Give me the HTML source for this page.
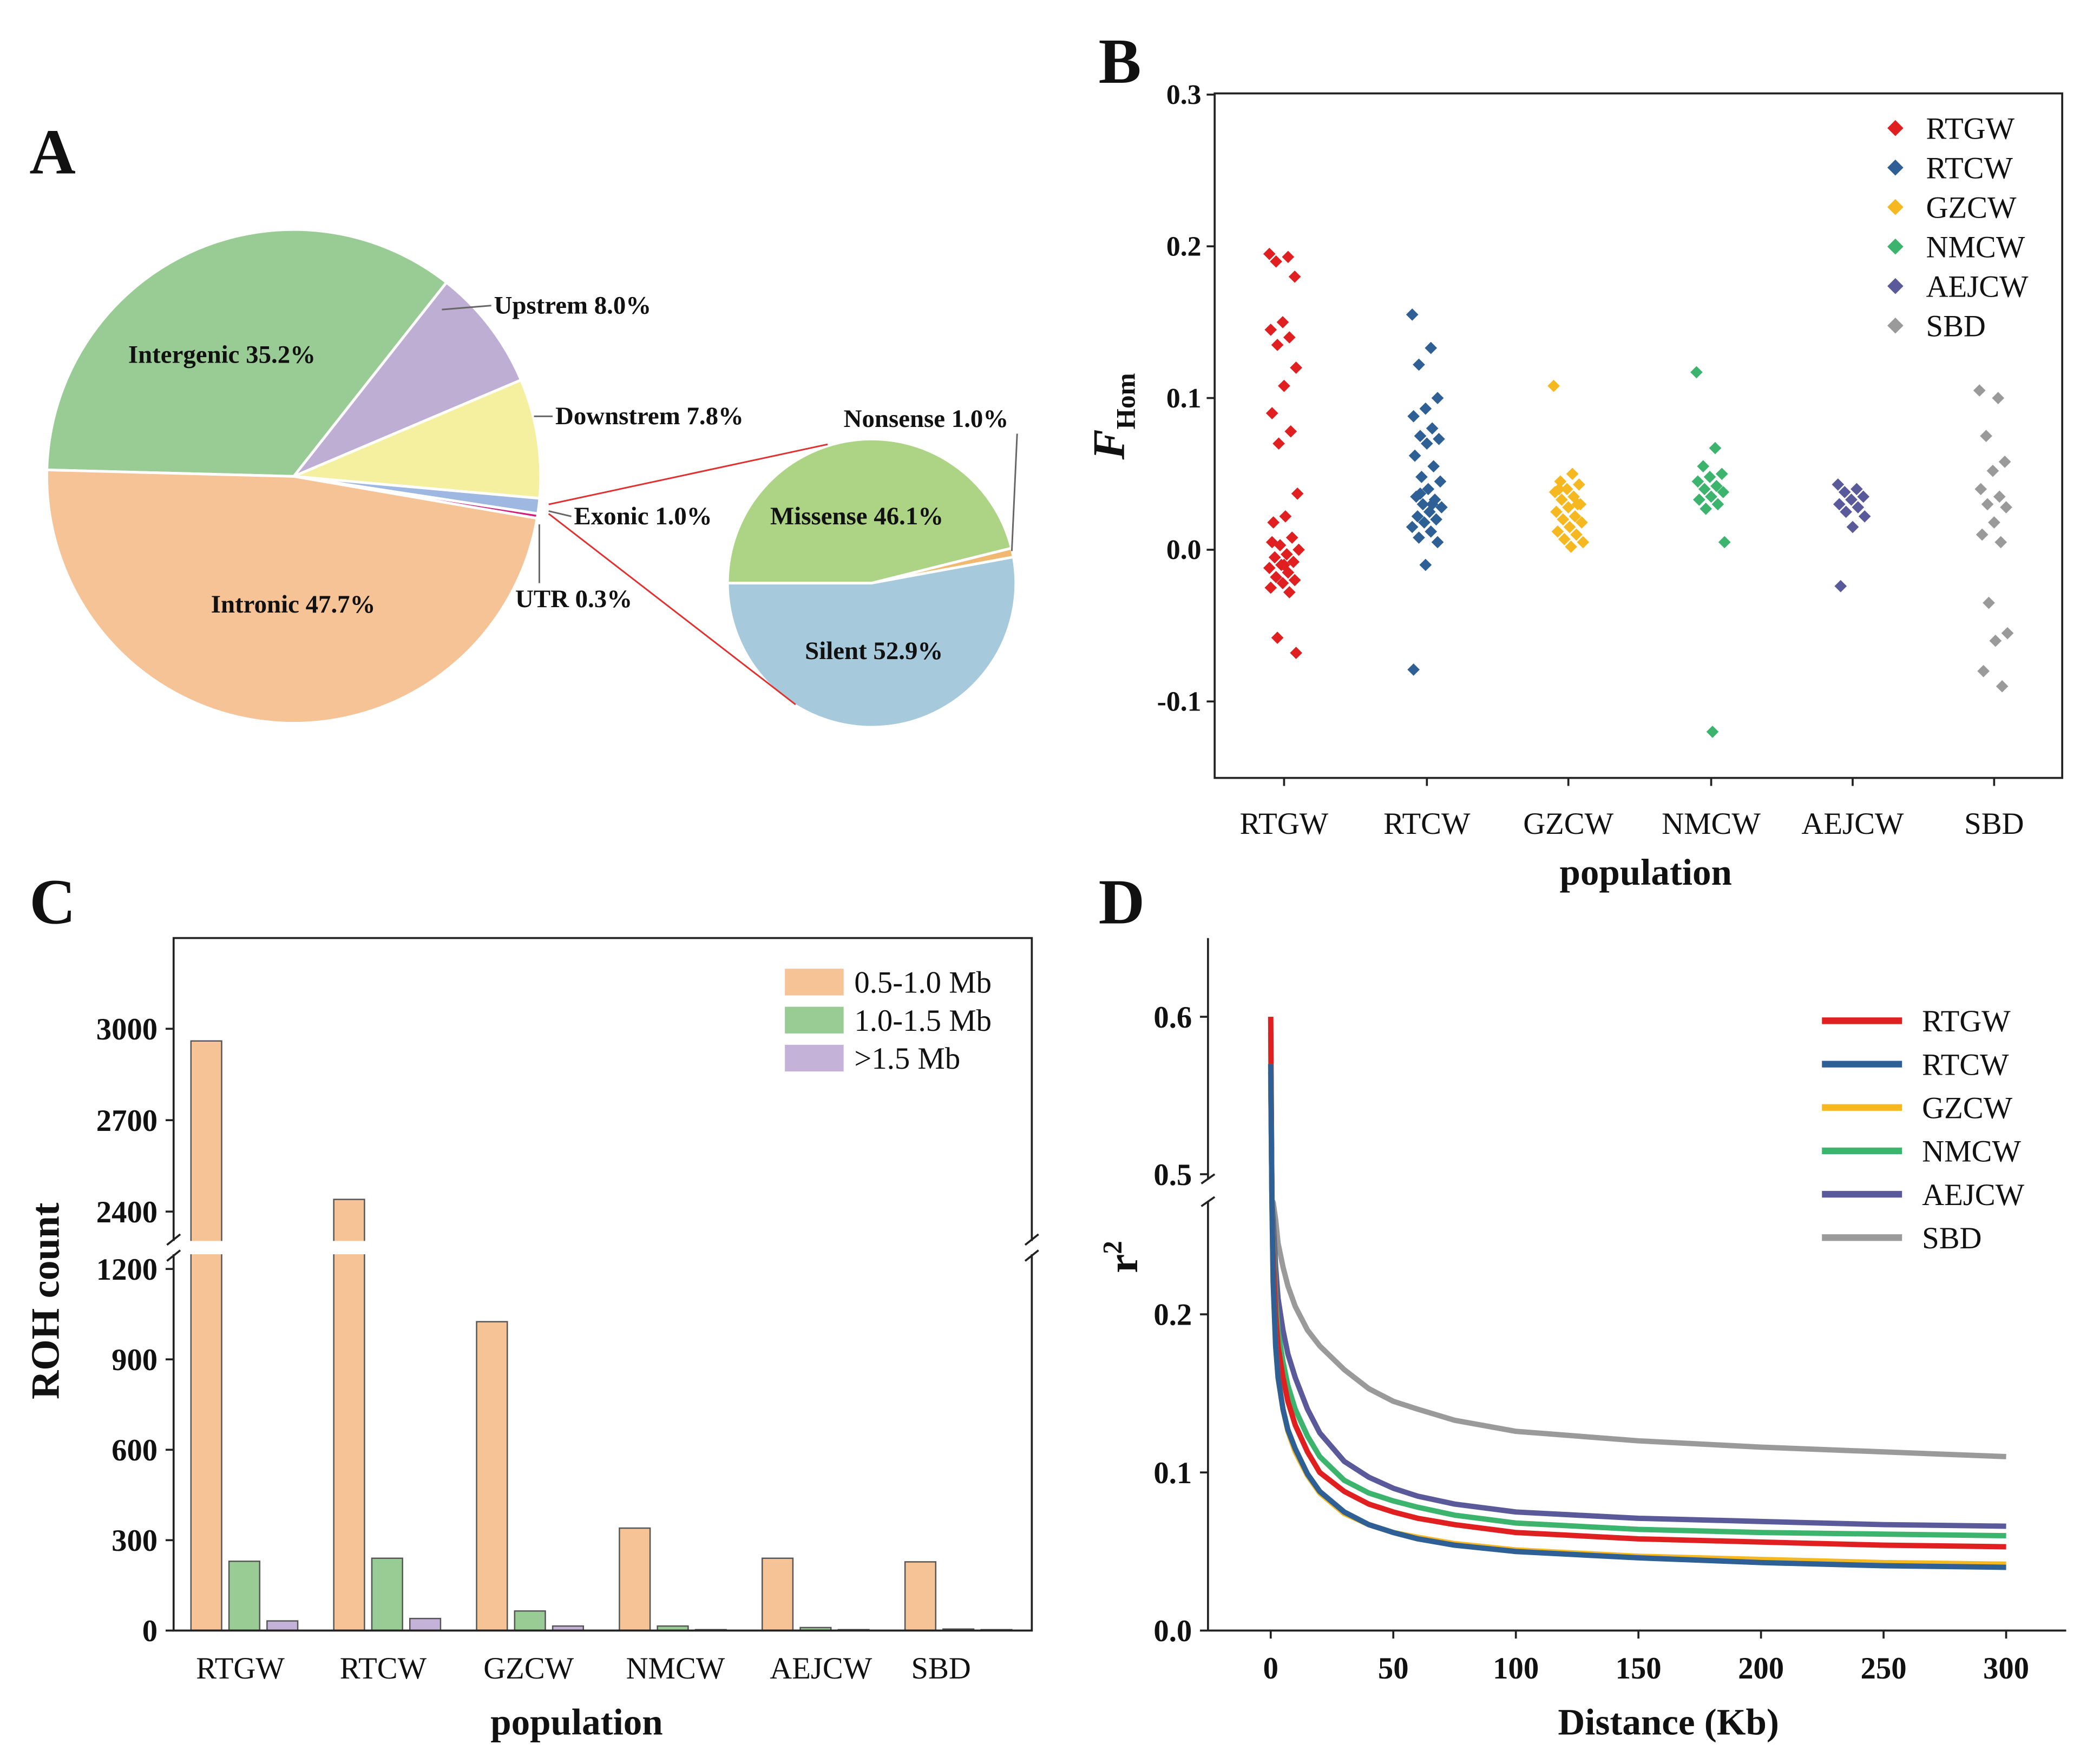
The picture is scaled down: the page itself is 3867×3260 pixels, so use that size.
<!DOCTYPE html>
<html><head><meta charset="utf-8"><style>
html,body{margin:0;padding:0;background:#fff;}
svg{display:block;font-family:"Liberation Serif",serif;}
</style></head><body>
<svg id="fig" width="3867" height="3260" viewBox="0 0 1568 1322" xmlns="http://www.w3.org/2000/svg">
<rect x="0" y="0" width="1568" height="1322" fill="#fff"/>
<g id="A"></g>
<g id="B"></g>
<g id="C"></g>
<g id="D"></g>
</svg>
<script>
// ===== Panel A data =====
const pieLabels = ["Intergenic","Upstrem","Downstrem","Exonic","UTR","Intronic"];
const pieValues = [35.2, 8.0, 7.8, 1.0, 0.3, 47.7];
const pieColors = ["#98cc94","#bfaed4","#f4f0a0","#9fb8e2","#d0207a","#f5c396"];
const subLabels = ["Missense","Nonsense","Silent"];
const subValues = [46.1, 1.0, 52.9];
const subColors = ["#acd484","#f0b870","#a7c9dc"];
// ===== Panel B data =====
const popNames = ["RTGW","RTCW","GZCW","NMCW","AEJCW","SBD"];
const popColors = ["#e02020","#2e5f95","#f5b820","#3cb46e","#5a5a9a","#9a9a9a"];
const fRTGW = [0.195,0.193,0.19,0.18,0.15,0.145,0.14,0.135,0.12,0.108,0.09,0.078,0.07,0.037,0.022,0.018,0.008,0.003,0.0,-0.003,-0.005,-0.008,-0.01,-0.012,-0.015,-0.018,-0.02,-0.022,-0.025,-0.028,-0.058,-0.068,-0.01,0.005];
const fRTCW = [0.155,0.133,0.122,0.1,0.093,0.088,0.08,0.075,0.073,0.07,0.062,0.055,0.048,0.045,0.04,0.035,0.033,0.03,0.028,0.025,0.022,0.02,0.018,0.015,0.012,0.008,0.005,-0.01,-0.079,0.03,0.037];
const fGZCW = [0.108,0.05,0.045,0.043,0.04,0.038,0.035,0.033,0.03,0.028,0.025,0.022,0.02,0.018,0.015,0.012,0.01,0.007,0.005,0.002,0.04,0.03];
const fNMCW = [0.117,0.067,0.055,0.05,0.048,0.045,0.042,0.04,0.038,0.035,0.033,0.03,0.027,0.005,-0.12];
const fAEJCW = [0.043,0.04,0.038,0.035,0.033,0.03,0.028,0.025,0.022,0.015,-0.024];
const fSBD = [0.105,0.1,0.075,0.058,0.052,0.04,0.035,0.03,0.028,0.018,0.01,0.005,-0.035,-0.055,-0.06,-0.08,-0.09];
const bTicks = [-0.1,0.0,0.1,0.2,0.3];
// ===== Panel C data =====
const rohCats = ["RTGW","RTCW","GZCW","NMCW","AEJCW","SBD"];
const roh05 = [2960,2440,1025,340,240,228];
const roh10 = [230,240,65,15,10,5];
const roh15 = [32,40,15,3,3,3];
const rohSeriesNames = ["0.5-1.0 Mb","1.0-1.5 Mb",">1.5 Mb"];
const rohColors = ["#f5c396","#98cc94","#c4b2d8"];
const cLowTicks = [0,300,600,900,1200];
const cHighTicks = [2400,2700,3000];
// ===== Panel D data =====
const ldDist = [0,0.5,1,2,3,5,7,10,15,20,30,40,50,60,75,100,150,200,250,300];
const ldRTGW = [0.60,0.30,0.24,0.20,0.18,0.16,0.145,0.13,0.113,0.10,0.088,0.08,0.075,0.071,0.067,0.062,0.058,0.056,0.054,0.053];
const ldRTCW = [0.57,0.28,0.22,0.18,0.16,0.14,0.127,0.115,0.099,0.088,0.075,0.067,0.062,0.058,0.054,0.050,0.046,0.043,0.041,0.040];
const ldGZCW = [0.57,0.28,0.22,0.18,0.16,0.14,0.126,0.113,0.098,0.087,0.074,0.067,0.062,0.059,0.055,0.051,0.047,0.045,0.043,0.042];
const ldNMCW = [0.59,0.30,0.25,0.21,0.19,0.17,0.155,0.14,0.123,0.11,0.095,0.087,0.082,0.078,0.073,0.068,0.064,0.062,0.061,0.060];
const ldAEJCW = [0.565,0.30,0.26,0.23,0.21,0.19,0.175,0.16,0.14,0.125,0.107,0.097,0.09,0.085,0.08,0.075,0.071,0.069,0.067,0.066];
const ldSBD = [0.56,0.33,0.29,0.26,0.245,0.23,0.218,0.205,0.19,0.18,0.165,0.153,0.145,0.14,0.133,0.126,0.12,0.116,0.113,0.110];
const dXTicks = [0,50,100,150,200,250,300];
const dLowTicks = [0.0,0.1,0.2];
const dHighTicks = [0.5,0.6];

const NS="http://www.w3.org/2000/svg";
function mk(parent, tag, attrs, text){
  const e=document.createElementNS(NS,tag);
  for(const k in attrs) e.setAttribute(k,attrs[k]);
  if(text!==undefined) e.textContent=text;
  parent.appendChild(e); return e;
}
function tx(parent,x,y,s,opts){
  opts=opts||{};
  return mk(parent,"text",{x:x,y:y,"font-size":opts.size||22,"font-weight":opts.bold?"bold":"normal","text-anchor":opts.anchor||"start",fill:"#111",transform:opts.tf||""},s);
}
function pt(cx,cy,r,deg){const a=deg*Math.PI/180;return [cx+r*Math.cos(a),cy-r*Math.sin(a)];}
function arcPath(cx,cy,r,a0,a1){
  const p0=pt(cx,cy,r,a0),p1=pt(cx,cy,r,a1);const large=(a0-a1)>180?1:0;
  return `M${cx},${cy}L${p0[0]},${p0[1]}A${r},${r} 0 ${large} 1 ${p1[0]},${p1[1]}Z`;
}

// ---------- Panel A ----------
const A=document.getElementById("A");
let el=tx(A,22,130,"A",{size:48,bold:true});


{
  const cx=220,cy=357,r=185; let ang=178.5;
  const tot=pieValues.reduce((a,b)=>a+b,0);
  pieValues.forEach((v,i)=>{
    const sw=v/tot*360; const a1=ang-sw;
    const p=mk(A,"path",{d:arcPath(cx,cy,r,ang,a1),fill:pieColors[i],stroke:"#fff","stroke-width":2});
    
    
    ang=a1;
  });
  const sx=653,sy=437,sr=108; let a2=180;
  const st=subValues.reduce((a,b)=>a+b,0);
  subValues.forEach((v,i)=>{
    const sw=v/st*360; const a1=a2-sw;
    const p=mk(A,"path",{d:arcPath(sx,sy,sr,a2,a1),fill:subColors[i],stroke:"#fff","stroke-width":2});
    
    
    a2=a1;
  });
  mk(A,"line",{x1:411,y1:378,x2:620,y2:333,stroke:"#e03030","stroke-width":1.2});
  mk(A,"line",{x1:411,y1:385,x2:596,y2:528,stroke:"#e03030","stroke-width":1.2});
  const lab=[["Intergenic 35.2%",96,272],["Intronic 47.7%",158,459],["Missense 46.1%",577,393],["Silent 52.9%",603,494]];
  lab.forEach(l=>{const t=tx(A,l[1],l[2],l[0],{size:19,bold:true});});
  const lead=[["Upstrem 8.0%",370,235,[[331,232],[368,229]]],["Downstrem 7.8%",416,318,[[400,312],[414,312]]],["Exonic 1.0%",430,393,[[411,383],[428,387]]],["UTR 0.3%",386,455,[[404,393],[404,437]]],["Nonsense 1.0%",632,320,[[758,413],[762,325]]]];
  lead.forEach(l=>{const t=tx(A,l[1],l[2],l[0],{size:19,bold:true});
    mk(A,"polyline",{points:l[3].map(p=>p.join(",")).join(" "),fill:"none",stroke:"#666","stroke-width":1.2});});
}

// ---------- Panel B ----------
const B=document.getElementById("B");
el=tx(B,823,62,"B",{size:48,bold:true});


{
  const x0=910,x1=1545,yTop=70,yBot=583;
  const yB=v=>412-v*1137;
  const xCat=[962,1069,1175,1282,1388,1494];
  const box=mk(B,"rect",{x:x0,y:yTop,width:x1-x0,height:yBot-yTop,fill:"none",stroke:"#222","stroke-width":1.5});
  
  
  bTicks.forEach(t=>{mk(B,"line",{x1:x0-6,x2:x0,y1:yB(t),y2:yB(t),stroke:"#222","stroke-width":1.5});
    const l=tx(B,x0-10,yB(t)+7,t.toFixed(1),{size:21,bold:true,anchor:"end"});
    });
  const groups=[fRTGW,fRTCW,fGZCW,fNMCW,fAEJCW,fSBD];
  groups.forEach((g,gi)=>{
    mk(B,"line",{x1:xCat[gi],x2:xCat[gi],y1:yBot,y2:yBot+6,stroke:"#222","stroke-width":1.5});
    const l=tx(B,xCat[gi],625,popNames[gi],{size:23,anchor:"middle"});
    
    g.forEach((v,i)=>{
      const jit=((i*37)%23-11)*1.0;
      const x=xCat[gi]+jit,y=yB(v),s=4.6;
      const d=mk(B,"path",{d:`M${x},${y-s}L${x+s},${y}L${x},${y+s}L${x-s},${y}Z`,fill:popColors[gi]});
      
      
    });
  });
  el=tx(B,1233,663,"population",{size:28,bold:true,anchor:"middle"});
  
  const yt=mk(B,"text",{x:0,y:0,transform:"translate(842,312) rotate(-90)","font-size":34,"font-weight":"bold","font-style":"italic","text-anchor":"middle",fill:"#111"});
  yt.innerHTML='F<tspan font-size="20" font-style="normal" dy="8">Hom</tspan>';
  
  popNames.forEach((n,i)=>{const y=96+i*29.6,s=6;
    const m=mk(B,"path",{d:`M1420,${y-s}L${1420+s},${y}L1420,${y+s}L${1420-s},${y}Z`,fill:popColors[i]});
    
    const l=tx(B,1443,y+8,n,{size:23});
    });
}

// ---------- Panel C ----------
const C=document.getElementById("C");
el=tx(C,22,692,"C",{size:48,bold:true});


{
  const x0=130,x1=773,yTop=703,yBot=1222,breakTop=930,breakBot=940;
  const yLow=v=>1222-v*(271/1200);
  const yHigh=v=>771+(3000-v)*(68.5/300);
  const yC=v=>v<=1250?yLow(v):Math.max(yHigh(v),yTop);
  const gx=[183,290,397,504,611,718];
  const series=[roh05,roh10,roh15];
  series.forEach((s,si)=>s.forEach((v,i)=>{
    const x=gx[i]-40+si*28.5;
    const y=yC(v);
    const b=mk(C,"rect",{x:x,y:y,width:23,height:yBot-y,fill:rohColors[si],stroke:"#555","stroke-width":1});
    
    
  }));
  mk(C,"rect",{x:x0+1,y:breakTop,width:x1-x0-2,height:breakBot-breakTop,fill:"#fff"});
  mk(C,"polyline",{points:`${x0},${breakTop} ${x0},${yTop} ${x1},${yTop} ${x1},${breakTop}`,fill:"none",stroke:"#222","stroke-width":1.5});
  mk(C,"polyline",{points:`${x0},${breakBot} ${x0},${yBot} ${x1},${yBot} ${x1},${breakBot}`,fill:"none",stroke:"#222","stroke-width":1.5});
  [x0,x1].forEach(x=>{mk(C,"line",{x1:x-5,y1:breakTop+3,x2:x+5,y2:breakTop-5,stroke:"#222","stroke-width":1.5});
    mk(C,"line",{x1:x-5,y1:breakBot+5,x2:x+5,y2:breakBot-3,stroke:"#222","stroke-width":1.5});});
  cLowTicks.forEach(t=>{mk(C,"line",{x1:x0-6,x2:x0,y1:yLow(t),y2:yLow(t),stroke:"#222","stroke-width":1.5});
    const l=tx(C,x0-12,yLow(t)+8,String(t),{size:23,bold:true,anchor:"end"});});
  cHighTicks.forEach(t=>{mk(C,"line",{x1:x0-6,x2:x0,y1:yHigh(t),y2:yHigh(t),stroke:"#222","stroke-width":1.5});
    const l=tx(C,x0-12,yHigh(t)+8,String(t),{size:23,bold:true,anchor:"end"});});
  const lx=[180,287,396,506,615,705];
  rohCats.forEach((c,i)=>{const l=tx(C,lx[i],1258,c,{size:23,anchor:"middle"});});
  el=tx(C,432,1300,"population",{size:28,bold:true,anchor:"middle"});
  
  el=tx(C,0,0,"ROH count",{size:30,bold:true,anchor:"middle",tf:"translate(44,975) rotate(-90)"});
  
  rohSeriesNames.forEach((n,i)=>{const y=726+i*28.5;
    const r=mk(C,"rect",{x:588,y:y,width:44,height:20,fill:rohColors[i]});
    
    const l=tx(C,640,y+18,n,{size:23});});
}

// ---------- Panel D ----------
const D=document.getElementById("D");
el=tx(D,823,692,"D",{size:48,bold:true});


{
  const x0=905,xEnd=1548,yTop=703,yBot=1222;
  const xD=v=>952+v*(551/300);
  const yD=v=>{ if(v<=0.27) return 1222-v*1185; if(v>=0.49) return 880-(v-0.5)*1180; return 902-(v-0.27)/(0.22)*10; };
  mk(D,"line",{x1:x0,y1:yTop,x2:x0,y2:884,stroke:"#222","stroke-width":1.5});
  mk(D,"line",{x1:x0,y1:900,x2:x0,y2:yBot,stroke:"#222","stroke-width":1.5});
  mk(D,"line",{x1:x0,y1:yBot,x2:xEnd,y2:yBot,stroke:"#222","stroke-width":1.5});
  mk(D,"line",{x1:x0-5,y1:887,x2:x0+5,y2:880,stroke:"#222","stroke-width":1.5});
  mk(D,"line",{x1:x0-5,y1:904,x2:x0+5,y2:897,stroke:"#222","stroke-width":1.5});
  dLowTicks.concat(dHighTicks).forEach(t=>{const y=yD(t);mk(D,"line",{x1:x0-6,x2:x0,y1:y,y2:y,stroke:"#222","stroke-width":1.5});
    const l=tx(D,x0-12,y+8,t.toFixed(1),{size:23,bold:true,anchor:"end"});});
  dXTicks.forEach(t=>{const x=xD(t);mk(D,"line",{x1:x,x2:x,y1:yBot,y2:yBot+6,stroke:"#222","stroke-width":1.5});
    const l=tx(D,x,1258,String(t),{size:23,bold:true,anchor:"middle"});});
  const series=[ldSBD,ldAEJCW,ldNMCW,ldRTGW,ldGZCW,ldRTCW];
  const sNames=["SBD","AEJCW","NMCW","RTGW","GZCW","RTCW"];
  const sCols=["#9a9a9a","#5a5a9a","#3cb46e","#e02020","#f5b820","#2e5f95"];
  series.forEach((s,si)=>{
    const p=mk(D,"polyline",{points:s.map((v,i)=>xD(ldDist[i])+","+yD(v)).join(" "),fill:"none",stroke:sCols[si],"stroke-width":4,"stroke-linejoin":"round"});
    
    
  });
  popNames.forEach((n,i)=>{const y=765+i*32.5;
    const l=mk(D,"line",{x1:1365,x2:1425,y1:y,y2:y,stroke:popColors[i],"stroke-width":5});
    
    const t=tx(D,1440,y+8,n,{size:23});});
  el=tx(D,1250,1300,"Distance (Kb)",{size:28,bold:true,anchor:"middle"});
  
  const yt=mk(D,"text",{x:0,y:0,transform:"translate(852,942) rotate(-90)","font-size":32,"font-weight":"bold","text-anchor":"middle",fill:"#111"});
  yt.innerHTML='r<tspan font-size="20" dy="-12">2</tspan>';
  
}
</script>
</body></html>
